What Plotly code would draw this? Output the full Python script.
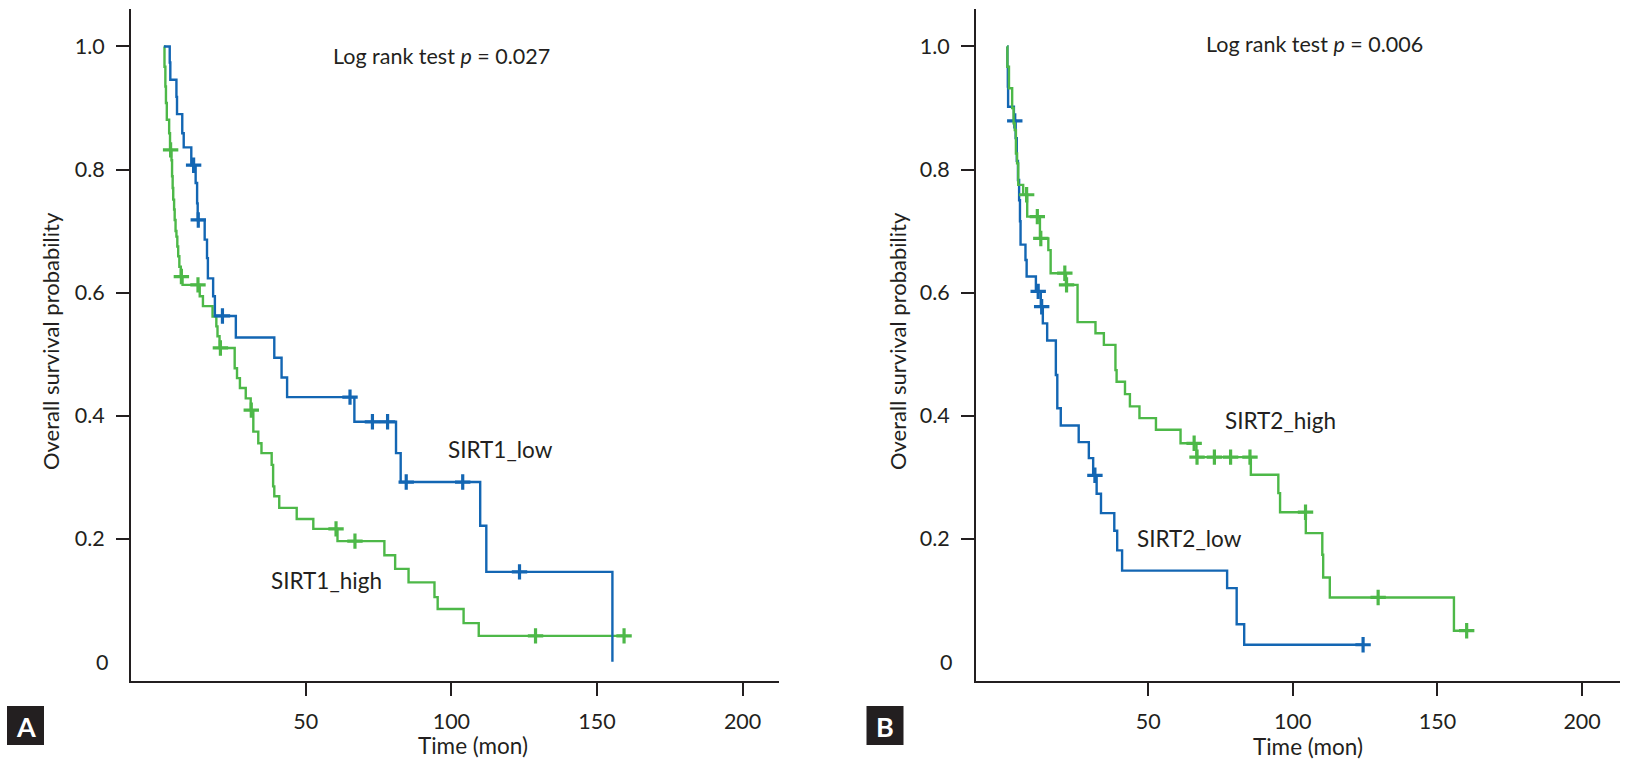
import plotly.graph_objects as go

# ---------------- DATA ----------------
# Panel A: SIRT1
sirt1_low_time = [1.3, 3.3, 3.5, 5.6, 5.8, 7.6, 8.1, 10.7, 12.2, 12.7, 12.9, 15.3, 16.1, 16.4,
                  18.2, 18.8, 26.0, 39.2, 41.7, 43.6, 66.7, 81.0, 82.6, 109.9, 112.0, 155.3]
sirt1_low_surv = [1.0, 0.974, 0.946, 0.918, 0.890, 0.859, 0.836, 0.807, 0.778, 0.745, 0.718, 0.686,
                  0.656, 0.623, 0.594, 0.562, 0.527, 0.494, 0.462, 0.430, 0.390, 0.339, 0.292,
                  0.221, 0.146, 0.0]
sirt1_low_censor = [11.5, 13.1, 21.4, 65.2, 72.9, 78.1, 84.5, 103.9, 123.4]

sirt1_high_time = [1.3, 1.5, 1.8, 2.0, 2.3, 3.1, 3.4, 3.9, 4.1, 4.3, 4.5, 4.8, 5.0, 5.3, 5.6,
                   5.9, 6.2, 6.6, 7.1, 7.7, 13.6, 14.7, 18.0, 19.3, 19.7, 20.4, 25.6, 26.4,
                   27.4, 29.4, 31.1, 32.0, 33.7, 34.8, 38.3, 38.8, 39.2, 40.9, 46.9, 52.6,
                   60.9, 77.0, 80.7, 85.3, 94.2, 95.3, 104.2, 109.4, 159.3]
sirt1_high_surv = [1.0, 0.967, 0.935, 0.908, 0.881, 0.859, 0.832, 0.815, 0.789, 0.770, 0.751,
                   0.735, 0.718, 0.700, 0.691, 0.675, 0.659, 0.642, 0.626, 0.6125, 0.594, 0.578,
                   0.561, 0.545, 0.529, 0.510, 0.477, 0.461, 0.445, 0.428, 0.409, 0.374, 0.355,
                   0.339, 0.320, 0.285, 0.269, 0.250, 0.232, 0.216, 0.196, 0.173, 0.151, 0.129,
                   0.105, 0.0856, 0.0628, 0.042, 0.042]
sirt1_high_censor = [3.6, 7.3, 13.0, 20.7, 31.3, 60.4, 66.9, 128.9, 159.3]

# Panel B: SIRT2
sirt2_low_time = [1.3, 1.35, 1.5, 1.6, 3.6, 4.2, 4.6, 5.0, 5.4, 5.7, 5.9, 7.6, 8.0, 11.2, 12.9,
                  13.6, 15.1, 18.1, 18.6, 19.8, 26.0, 29.5, 31.0, 32.2, 33.7, 38.3, 39.3, 41.0,
                  77.3, 80.6, 83.2, 124.3]
sirt2_low_surv = [1.0, 0.967, 0.935, 0.902, 0.879, 0.851, 0.814, 0.783, 0.750, 0.716, 0.678,
                  0.653, 0.626, 0.602, 0.577, 0.550, 0.522, 0.466, 0.412, 0.384, 0.357, 0.331,
                  0.303, 0.273, 0.2415, 0.213, 0.181, 0.148, 0.1197, 0.061, 0.0276, 0.0276]
sirt2_low_censor = [3.9, 12.0, 13.2, 31.6, 124.3]

sirt2_high_time = [1.3, 1.35, 1.9, 3.0, 3.5, 3.9, 4.3, 4.7, 5.1, 6.8, 8.2, 12.6, 15.5, 16.3,
                   21.6, 25.6, 31.8, 34.7, 38.7, 39.1, 42.0, 43.7, 47.0, 52.7, 61.2, 66.7, 85.5,
                   95.0, 95.6, 104.5, 110.2, 110.5, 112.8, 155.7, 160.1]
sirt2_high_surv = [1.0, 0.967, 0.932, 0.900, 0.875, 0.864, 0.826, 0.810, 0.775, 0.759, 0.7235,
                   0.688, 0.669, 0.6315, 0.6125, 0.552, 0.534, 0.515, 0.474, 0.455, 0.435, 0.415,
                   0.396, 0.377, 0.355, 0.3325, 0.304, 0.274, 0.243, 0.209, 0.174, 0.137, 0.1045,
                   0.0504, 0.0504]
sirt2_high_censor = [8.0, 11.7, 12.9, 21.2, 21.8, 65.9, 66.9, 72.9, 78.5, 85.2, 104.4, 129.5, 160.1]

x_ticks = [50, 100, 150, 200]
y_ticks = [0.2, 0.4, 0.6, 0.8, 1.0]
y_ticktext = ["0.2", "0.4", "0.6", "0.8", "1.0"]

# ---------------- STYLE ----------------
BLUE = "#1366b3"
GREEN = "#4db848"
INK = "#231f20"
FONT = "Lato"


def step_value(times, surv, t):
    v = surv[0]
    for ti, si in zip(times, surv):
        if ti <= t:
            v = si
        else:
            break
    return v


fig = go.Figure()


def add_curve(times, surv, censor, color, xa, ya):
    fig.add_trace(go.Scatter(x=times, y=surv, mode="lines", line=dict(color=color, width=2.4, shape="hv"),
                             xaxis=xa, yaxis=ya, showlegend=False, hoverinfo="skip"))
    cy = [step_value(times, surv, t) for t in censor]
    fig.add_trace(go.Scatter(x=censor, y=cy, mode="markers",
                             marker=dict(symbol="cross-thin", size=11, line=dict(color=color, width=3.2)),
                             xaxis=xa, yaxis=ya, showlegend=False, hoverinfo="skip"))


add_curve(sirt1_high_time, sirt1_high_surv, sirt1_high_censor, GREEN, "x", "y")
add_curve(sirt1_low_time, sirt1_low_surv, sirt1_low_censor, BLUE, "x", "y")
add_curve(sirt2_low_time, sirt2_low_surv, sirt2_low_censor, BLUE, "x2", "y2")
add_curve(sirt2_high_time, sirt2_high_surv, sirt2_high_censor, GREEN, "x2", "y2")

W, H = 1631, 766


def px(X):
    return X / W


def py(Y):
    return 1 - Y / H


ydom = [py(680.5), py(8.5)]
yrange = [-0.0305, 1.0617]
TICKSIZE = 21.5

common_x = dict(showline=True, linecolor=INK, linewidth=2, ticks="outside", ticklen=13, tickwidth=2,
                tickcolor=INK, tickvals=x_ticks, showgrid=False, zeroline=False,
                tickfont=dict(family=FONT, size=TICKSIZE, color=INK), ticklabelstandoff=8, fixedrange=True)
common_y = dict(showline=True, linecolor=INK, linewidth=2, ticks="outside", ticklen=13, tickwidth=2,
                tickcolor=INK, tickvals=y_ticks, ticktext=y_ticktext, showgrid=False, zeroline=False,
                tickfont=dict(family=FONT, size=TICKSIZE, color=INK), ticklabelstandoff=7, range=yrange,
                domain=ydom, fixedrange=True)

fig.update_layout(
    width=W, height=H, margin=dict(l=0, r=0, t=0, b=0),
    paper_bgcolor="white", plot_bgcolor="white",
    xaxis=dict(common_x, domain=[px(131), px(779)], range=[-10.0, 212.5], anchor="y"),
    yaxis=dict(common_y, anchor="x"),
    xaxis2=dict(common_x, domain=[px(976), px(1620)], range=[-9.5, 213.1], anchor="y2"),
    yaxis2=dict(common_y, anchor="x2"),
)

ann = []


def text(X, Y, s, size=22, xanchor="center", angle=0, color=INK, bold=False):
    ann.append(dict(x=px(X), y=py(Y), xref="paper", yref="paper", text=("<b>%s</b>" % s) if bold else s,
                    showarrow=False, xanchor=xanchor, yanchor="middle", textangle=angle,
                    font=dict(family=FONT, size=size, color=color)))


# p-values
text(441, 56, "Log rank test <i>p</i> = 0.027", size=21.5)
text(1314, 44, "Log rank test <i>p</i> = 0.006", size=21.5)
# group labels
text(501, 449, "SIRT1_low", size=22.5)
text(326, 580, "SIRT1_high", size=22.5)
text(1280, 420, "SIRT2_high", size=22.5)
text(1189, 538, "SIRT2_low", size=22.5)
# axis titles
text(50, 341, "Overall survival probability", size=22, angle=-90)
text(897, 341, "Overall survival probability", size=22, angle=-90)
text(473, 745, "Time (mon)", size=22.5)
text(1308, 746, "Time (mon)", size=22.5)
# zero labels (no tick mark)
text(110, 662, "0", size=TICKSIZE, xanchor="right")
text(954, 662, "0", size=TICKSIZE, xanchor="right")
# panel letters
text(25.5, 726, "A", size=27, color="white", bold=True)
text(885, 726, "B", size=27, color="white", bold=True)

fig.update_layout(annotations=ann)
fig.update_layout(shapes=[
    dict(type="rect", xref="paper", yref="paper", x0=px(7), x1=px(44), y0=py(745), y1=py(706),
         fillcolor=INK, line=dict(width=0), layer="below"),
    dict(type="rect", xref="paper", yref="paper", x0=px(866.5), x1=px(903.5), y0=py(745), y1=py(706),
         fillcolor=INK, line=dict(width=0), layer="below"),
])

fig.write_html("out.html", config={"displayModeBar": False},
               post_script="document.body.style.margin='0px';document.body.style.overflow='hidden';")
